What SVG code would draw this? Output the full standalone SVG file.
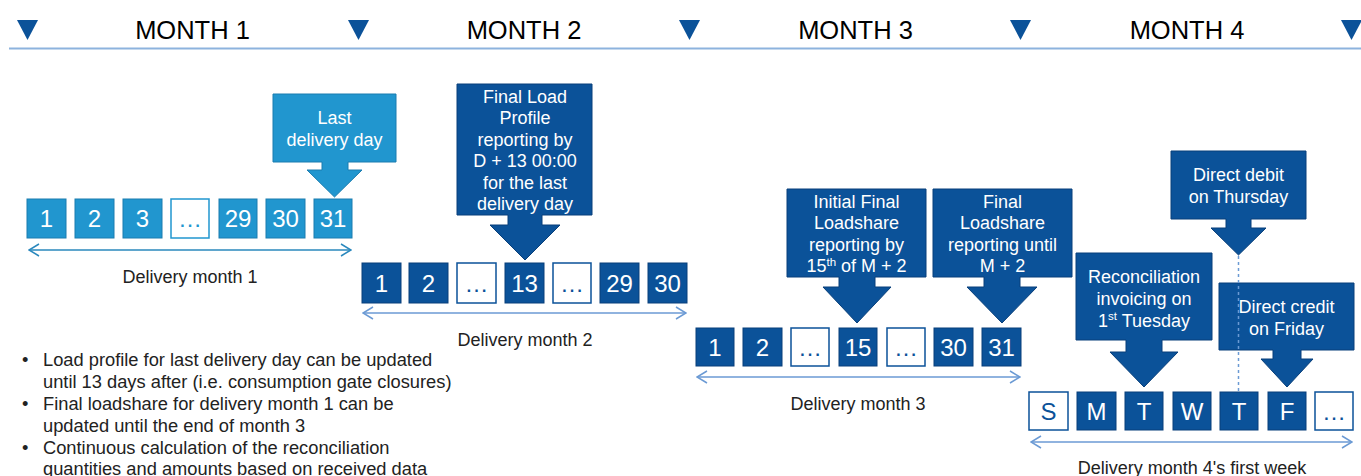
<svg xmlns="http://www.w3.org/2000/svg" width="1361" height="476" viewBox="0 0 1361 476">
<style>
text{font-family:"Liberation Sans",Arial,sans-serif}
.hdr{font-size:25.5px;fill:#000;text-anchor:middle}
.tri{fill:#0b5299}
.lb{fill:#2196cf;stroke:#1a7db0;stroke-width:1}
.db{fill:#0b5299;stroke:#083f7a;stroke-width:1}
.lbe{fill:#fff;stroke:#2196cf;stroke-width:1.5}
.dbe{fill:#fff;stroke:#0b5299;stroke-width:1.5}
.num{font-size:24px;fill:#fff;text-anchor:middle}
.nume{font-size:24px;fill:#0b5299;text-anchor:middle}
.numel{font-size:24px;fill:#2196cf;text-anchor:middle}
.co{font-size:18px;fill:#fff;text-anchor:middle}
.lab{font-size:18px;fill:#222;text-anchor:middle}
.bul{font-size:18.3px;fill:#222}
.ar1{stroke:#2a88bd;stroke-width:1.5;fill:none}
.ar2{stroke:#6b9ad4;stroke-width:1.5;fill:none}
</style>
<defs>
<marker id="m1" viewBox="0 0 12 14" refX="11" refY="7" markerWidth="12" markerHeight="14" markerUnits="userSpaceOnUse" orient="auto-start-reverse"><path d="M1,1 L11,7 L1,13" fill="none" stroke="#2a88bd" stroke-width="1.5"/></marker>
<marker id="m2" viewBox="0 0 12 14" refX="11" refY="7" markerWidth="12" markerHeight="14" markerUnits="userSpaceOnUse" orient="auto-start-reverse"><path d="M1,1 L11,7 L1,13" fill="none" stroke="#6b9ad4" stroke-width="1.5"/></marker>
</defs>
<rect width="1361" height="476" fill="#fff"/>

<g id="header">
<line x1="9" y1="48.5" x2="1361" y2="48.5" stroke="#8db3de" stroke-width="2"/>
<path class="tri" d="M17,20 L38,20 L27.5,40 Z"/>
<path class="tri" d="M348,20 L369,20 L358.5,40 Z"/>
<path class="tri" d="M679,20 L700,20 L689.5,40 Z"/>
<path class="tri" d="M1010,20 L1031,20 L1020.5,40 Z"/>
<path class="tri" d="M1341,20 L1362,20 L1351.5,40 Z"/>
<text class="hdr" x="192.5" y="38.5">MONTH 1</text>
<text class="hdr" x="524" y="38.5">MONTH 2</text>
<text class="hdr" x="855.5" y="38.5">MONTH 3</text>
<text class="hdr" x="1187" y="38.5">MONTH 4</text>
</g>

<g id="month1-days">
<rect class="lb" x="27" y="199" width="39" height="39"/><text class="num" x="46.5" y="227">1</text>
<rect class="lb" x="75" y="199" width="39" height="39"/><text class="num" x="94.5" y="227">2</text>
<rect class="lb" x="123" y="199" width="39" height="39"/><text class="num" x="142.5" y="227">3</text>
<rect class="lbe" x="171" y="199" width="38" height="39"/><text class="numel" x="190" y="227">…</text>
<rect class="lb" x="219" y="199" width="38" height="39"/><text class="num" x="238" y="227">29</text>
<rect class="lb" x="266" y="199" width="39" height="39"/><text class="num" x="285.5" y="227">30</text>
<rect class="lb" x="314" y="199" width="38" height="39"/><text class="num" x="333" y="227">31</text>
</g>
<g id="callout-last-day">
<path class="lb" d="M273,94 H396 V162 H348 V170 H362 L334.5,197 L307,170 H322 V162 H273 Z"/>
<text class="co" x="334.5" y="123.5">Last</text>
<text class="co" x="334.5" y="145.5">delivery day</text>
</g>

<g id="month2-days">
<rect class="db" x="362" y="263" width="39" height="40"/><text class="num" x="381.5" y="291.5">1</text>
<rect class="db" x="409" y="263" width="39" height="40"/><text class="num" x="428.5" y="291.5">2</text>
<rect class="dbe" x="457" y="263" width="39" height="40"/><text class="nume" x="476.5" y="291.5">…</text>
<rect class="db" x="505" y="263" width="39" height="40"/><text class="num" x="524.5" y="291.5">13</text>
<rect class="dbe" x="553" y="263" width="38" height="40"/><text class="nume" x="572" y="291.5">…</text>
<rect class="db" x="600" y="263" width="39" height="40"/><text class="num" x="619.5" y="291.5">29</text>
<rect class="db" x="648" y="263" width="39" height="40"/><text class="num" x="667.5" y="291.5">30</text>
</g>
<g id="callout-final-load-profile">
<path class="db" d="M457,84 H592 V215 H542 V225 H560 L525,260 L490,225 H508 V215 H457 Z"/>
<text class="co" x="525" y="102.5">Final Load</text>
<text class="co" x="525" y="124">Profile</text>
<text class="co" x="525" y="145.5">reporting by</text>
<text class="co" x="525" y="167">D + 13 00:00</text>
<text class="co" x="525" y="188.5">for the last</text>
<text class="co" x="525" y="210">delivery day</text>
</g>

<g id="month3-days">
<rect class="db" x="696" y="328" width="38" height="38"/><text class="num" x="715" y="355.5">1</text>
<rect class="db" x="743" y="328" width="39" height="38"/><text class="num" x="762.5" y="355.5">2</text>
<rect class="dbe" x="791" y="328" width="38" height="38"/><text class="nume" x="810" y="355.5">…</text>
<rect class="db" x="839" y="328" width="38" height="38"/><text class="num" x="858" y="355.5">15</text>
<rect class="dbe" x="887" y="328" width="38" height="38"/><text class="nume" x="906" y="355.5">…</text>
<rect class="db" x="934" y="328" width="39" height="38"/><text class="num" x="953.5" y="355.5">30</text>
<rect class="db" x="982" y="328" width="39" height="38"/><text class="num" x="1001.5" y="355.5">31</text>
</g>
<g id="callout-initial-final-loadshare">
<path class="db" d="M787,189 H926 V277 H875 V287 H891 L857,323 L823,287 H839 V277 H787 Z"/>
<text class="co" x="856.5" y="207.5">Initial Final</text>
<text class="co" x="856.5" y="229">Loadshare</text>
<text class="co" x="856.5" y="250.5">reporting by</text>
<text class="co" x="856.5" y="272">15<tspan font-size="11.5" dy="-6.5">th</tspan><tspan dy="6.5"> of M + 2</tspan></text>
</g>
<g id="callout-final-loadshare">
<path class="db" d="M933,189 H1072 V277 H1020 V287 H1037 L1002,323 L967,287 H984 V277 H933 Z"/>
<text class="co" x="1002.5" y="207.5">Final</text>
<text class="co" x="1002.5" y="229">Loadshare</text>
<text class="co" x="1002.5" y="250.5">reporting until</text>
<text class="co" x="1002.5" y="272">M + 2</text>
</g>

<g id="month4-days">
<rect class="dbe" x="1029" y="392" width="39" height="38"/><text class="nume" x="1048.5" y="419.5">S</text>
<rect class="db" x="1077" y="392" width="39" height="38"/><text class="num" x="1096.5" y="419.5">M</text>
<rect class="db" x="1125" y="392" width="38" height="38"/><text class="num" x="1144" y="419.5">T</text>
<rect class="db" x="1173" y="392" width="38" height="38"/><text class="num" x="1192" y="419.5">W</text>
<rect class="db" x="1220" y="392" width="38" height="38"/><text class="num" x="1239" y="419.5">T</text>
<rect class="db" x="1268" y="392" width="38" height="38"/><text class="num" x="1287" y="419.5">F</text>
<rect class="dbe" x="1315" y="392" width="38" height="38"/><text class="nume" x="1334" y="419.5">…</text>
</g>
<g id="callout-reconciliation">
<path class="db" d="M1076,253 H1212 V340 H1162 V352 H1178 L1144,387 L1110,352 H1126 V340 H1076 Z"/>
<text class="co" x="1144" y="282.5">Reconciliation</text>
<text class="co" x="1144" y="304.5">invoicing on</text>
<text class="co" x="1144" y="326.5">1<tspan font-size="11.5" dy="-6.5">st</tspan><tspan dy="6.5"> Tuesday</tspan></text>
</g>
<g id="callout-direct-debit">
<path class="db" d="M1171,151 H1306 V219 H1251 V228 H1266 L1238.5,255 L1211,228 H1226 V219 H1171 Z"/>
<text class="co" x="1238.5" y="180.5">Direct debit</text>
<text class="co" x="1238.5" y="202.5">on Thursday</text>
</g>
<g id="callout-direct-credit">
<path class="db" d="M1219,283 H1354 V350 H1301 V359 H1313 L1287,387 L1261,359 H1273 V350 H1219 Z"/>
<text class="co" x="1286.5" y="312.5">Direct credit</text>
<text class="co" x="1286.5" y="334.5">on Friday</text>
</g>

<g id="connectors">
<line class="ar1" x1="29" y1="250" x2="351" y2="250" marker-start="url(#m1)" marker-end="url(#m1)"/>
<line class="ar2" x1="363" y1="313" x2="686" y2="313" marker-start="url(#m2)" marker-end="url(#m2)"/>
<line class="ar2" x1="697" y1="377" x2="1020" y2="377" marker-start="url(#m2)" marker-end="url(#m2)"/>
<line class="ar2" x1="1031" y1="442" x2="1352" y2="442" marker-start="url(#m2)" marker-end="url(#m2)"/>
<line x1="1238.5" y1="256" x2="1238.5" y2="391" stroke="#6b9ad4" stroke-width="1.5" stroke-dasharray="3,3"/>
</g>

<g id="labels">
<text class="lab" x="190" y="283">Delivery month 1</text>
<text class="lab" x="525" y="346">Delivery month 2</text>
<text class="lab" x="858" y="410">Delivery month 3</text>
<text class="lab" x="1192" y="474">Delivery month 4's first week</text>
</g>

<g id="notes" class="bul">
<text x="22" y="365.5">•</text><text x="43" y="365.5">Load profile for last delivery day can be updated</text>
<text x="43" y="387.5">until 13 days after (i.e. consumption gate closures)</text>
<text x="22" y="410">•</text><text x="43" y="410">Final loadshare for delivery month 1 can be</text>
<text x="43" y="432">updated until the end of month 3</text>
<text x="22" y="453.5">•</text><text x="43" y="453.5">Continuous calculation of the reconciliation</text>
<text x="43" y="474.5">quantities and amounts based on received data</text>
</g>
</svg>
